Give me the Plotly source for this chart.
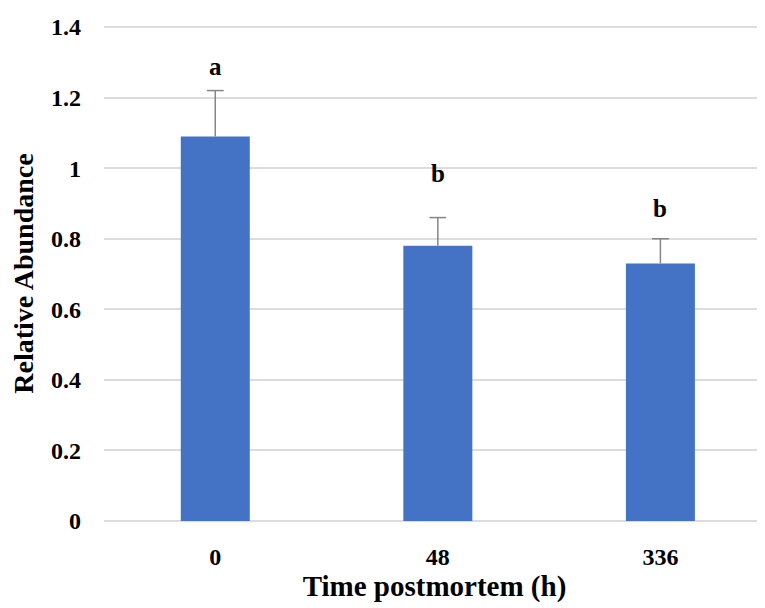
import plotly.graph_objects as go

categories = ["0", "48", "336"]
means = [1.09, 0.78, 0.73]
errors_plus = [0.13, 0.08, 0.07]
letters = ["a", "b", "b"]
letter_y = [1.265, 0.962, 0.862]  # baseline positions of significance letters
y_ticks = [0, 0.2, 0.4, 0.6, 0.8, 1.0, 1.2, 1.4]
y_tick_labels = ["0", "0.2", "0.4", "0.6", "0.8", "1", "1.2", "1.4"]

FONT = "Liberation Serif"
xs = list(range(len(categories)))

fig = go.Figure()
fig.add_trace(go.Bar(
    x=xs,
    y=means,
    width=0.31,
    marker=dict(color="#4472C4", line=dict(width=0)),
    error_y=dict(type="data", array=errors_plus, arrayminus=[0] * len(means),
                 symmetric=False, color="#858585", thickness=1.5, width=0),
))
# caps only at the upper end of the error bars
fig.add_trace(go.Scatter(
    x=xs,
    y=[m + e for m, e in zip(means, errors_plus)],
    mode="markers",
    marker=dict(symbol="line-ew", size=12, line=dict(color="#858585", width=1.5)),
    hoverinfo="skip",
))

for i, (t, yv) in enumerate(zip(letters, letter_y)):
    fig.add_annotation(x=i, y=yv, text="<b>%s</b>" % t, showarrow=False,
                       yanchor="bottom", yshift=-7,
                       font=dict(family=FONT, size=25, color="black"))

# page body has an 8px margin, so the figure is sized to fit the 765x608 window
fig.update_layout(
    width=757, height=600,
    margin=dict(l=96, r=0, t=18, b=87),
    paper_bgcolor="white", plot_bgcolor="white",
    showlegend=False,
    font=dict(family=FONT, color="black"),
    xaxis=dict(
        range=[-0.5, 2.47], automargin=False,
        tickvals=xs,
        ticktext=["<b>%s</b>" % c for c in categories],
        showgrid=False, showline=False, zeroline=False,
        tickfont=dict(family=FONT, size=24, color="black"),
        ticklabelstandoff=19,
        title=dict(text="<b>Time postmortem (h)</b>",
                   font=dict(family=FONT, size=29, color="black"), standoff=1),
    ),
    yaxis=dict(
        range=[0, 1.403], automargin=False,
        tickvals=y_ticks, ticktext=["<b>%s</b>" % s for s in y_tick_labels],
        showgrid=True, gridcolor="#DCDCDC", gridwidth=2,
        zeroline=True, zerolinecolor="#DCDCDC", zerolinewidth=2,
        showline=False,
        tickfont=dict(family=FONT, size=24, color="black"),
        ticklabelstandoff=22,
        title=dict(text="<b>Relative Abundance</b>",
                   font=dict(family=FONT, size=28, color="black"), standoff=12),
    ),
)

fig.write_html("out.html")
